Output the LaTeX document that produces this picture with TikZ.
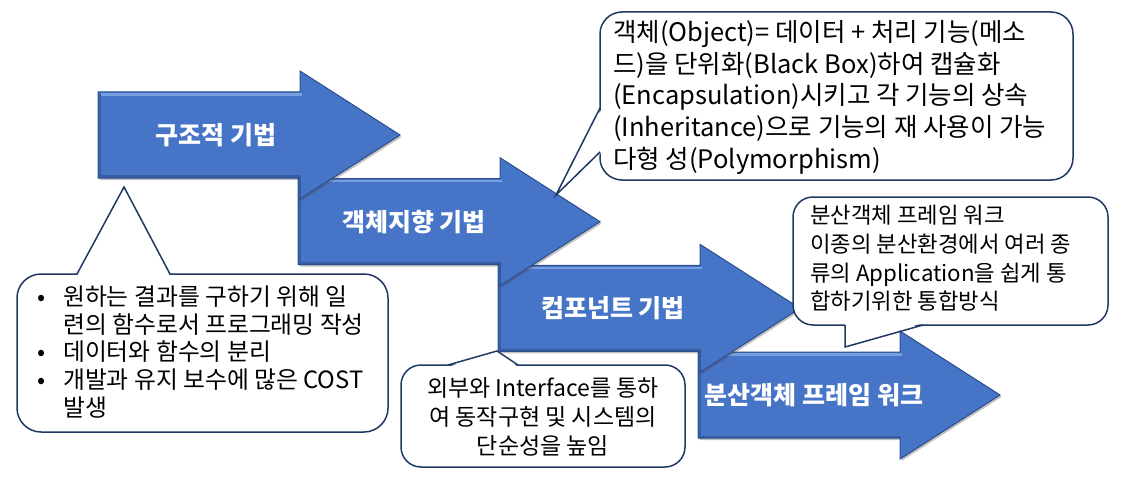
\documentclass[tikz,border=0pt]{standalone}
\usepackage{fontspec}
\setmainfont{Noto Sans CJK KR}
\usetikzlibrary{shadows}
\definecolor{arrowblue}{RGB}{70,116,198}
\definecolor{arrowedge}{RGB}{45,78,140}
\definecolor{arrowlight}{RGB}{120,160,225}
\definecolor{calloutline}{RGB}{32,56,100}
\tikzset{
  bigarrow/.style={fill=arrowblue, draw=arrowedge, line width=1pt, line join=miter,
    drop shadow={opacity=0.35, shadow xshift=1.5pt, shadow yshift=-2pt, fill=black!70}},
  bevellight/.style={draw=arrowlight, line width=2.2pt, line cap=butt},
  beveldark/.style={draw=arrowedge, opacity=0.6, line width=2pt, line cap=butt},
  arrowlabel/.style={text=white, font=\bfseries\fontsize{25}{29}\selectfont, inner sep=0pt},
  callbox/.style={fill=white, draw=calloutline, line width=1.5pt},
  callptr/.style={draw=calloutline, line width=1.5pt, line join=miter},
  calltext/.style={text=black, inner sep=0pt, font=\fontsize{23.8}{27.8}\selectfont},
}
\begin{document}
\begin{tikzpicture}[x=1pt,y=-1pt]
\useasboundingbox (0,0) rectangle (1122,484);
% ---- arrows (last first so each head lies over the next body)
\foreach \bx/\cy in {698/395, 498/308.3, 298/221.7, 98/135}{
  \path[bigarrow] (\bx,\cy-43) -- (\bx+202,\cy-43) -- (\bx+202,\cy-64) -- (\bx+302,\cy)
     -- (\bx+202,\cy+64) -- (\bx+202,\cy+43) -- (\bx,\cy+43) -- cycle;
  \draw[bevellight] (\bx+3,\cy-40.5) -- (\bx+204,\cy-40.5);
  \draw[beveldark] (\bx+1.8,\cy-41) -- (\bx+1.8,\cy+41.5) -- (\bx+203,\cy+41.5);
}
\node[arrowlabel] (l1) at (216,135) {구조적 기법};
\node[arrowlabel] (l2) at (414,222) {객체지향 기법};
\node[arrowlabel] (l3) at (613,308) {컴포넌트 기법};
\node[arrowlabel] (l4) at (814,395) {분산객체 프레임 워크};

% ---- callout A
\coordinate (tipA) at (124,187);
\draw[callbox, rounded corners=24] (17,274) rectangle (388,432);
\fill[white] (77,276) -- (tipA) -- (170,276) -- cycle;
\draw[callptr] (77,274) -- (tipA) -- (170,274);
\node[calltext, anchor=north west, align=left] (ta) at (63,285.5)
  {\llap{\makebox[26pt][l]{•}}원하는 결과를 구하기 위해 일\\련의 함수로서 프로그래밍 작성\\\llap{\makebox[26pt][l]{•}}데이터와 함수의 분리\\\llap{\makebox[26pt][l]{•}}개발과 유지 보수에 많은 COST\\발생};

% ---- callout B
\coordinate (tipB) at (497,351);
\draw[callbox, rounded corners=20] (401,365) rectangle (685,467);
\fill[white] (448,367) -- (tipB) -- (518,367) -- cycle;
\draw[callptr] (448,365) -- (tipB) -- (518,365);
\node[calltext, font=\fontsize{23}{29}\selectfont, align=center] (tb) at (543,417)
  {외부와 Interface를 통하\\여 동작구현 및 시스템의\\단순성을 높임};

% ---- callout C
\coordinate (tipC) at (556,195);
\draw[callbox, rounded corners=22] (600,12) rectangle (1073,180);
\fill[white] (602,108) -- (tipC) -- (602,152) -- cycle;
\draw[callptr] (600,108) -- (tipC) -- (600,152);
\node[calltext, font=\fontsize{25.5}{31.8}\selectfont, anchor=north west, align=left] (tc) at (613,20)
  {객체(Object)= 데이터 + 처리 기능(메소\\드)을 단위화(Black Box)하여 캡슐화\\(Encapsulation)시키고 각 기능의 상속\\(Inheritance)으로 기능의 재 사용이 가능\\다형 성(Polymorphism)};

% ---- callout D
\coordinate (tipD) at (845,347);
\draw[callbox, rounded corners=20] (793,197) rectangle (1108,325);
\fill[white] (845,323) -- (tipD) -- (923,323) -- cycle;
\draw[callptr] (845,325) -- (tipD) -- (923,325);
\node[calltext, font=\fontsize{22.3}{28.7}\selectfont, anchor=north west, align=left] (td) at (810,205)
  {분산객체 프레임 워크\\이종의 분산환경에서 여러 종\\류의 Application을 쉽게 통\\합하기위한 통합방식};
\end{tikzpicture}
\end{document}
